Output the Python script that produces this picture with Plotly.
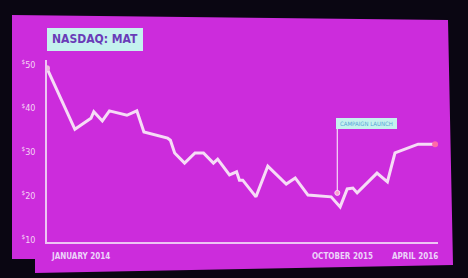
import plotly.graph_objects as go

# ---- data ----
dates = ["2014-01-01", "2014-03-01", "2014-04-04", "2014-04-10", "2014-04-28",
         "2014-05-13", "2014-06-19", "2014-07-10", "2014-07-25", "2014-09-13",
         "2014-09-19", "2014-09-28", "2014-10-19", "2014-11-10", "2014-11-28",
         "2014-12-19", "2014-12-28", "2015-01-22", "2015-02-06", "2015-02-12",
         "2015-02-19", "2015-03-19", "2015-04-13", "2015-05-22", "2015-06-10",
         "2015-07-07", "2015-08-25", "2015-09-13", "2015-09-28", "2015-10-10",
         "2015-10-19", "2015-11-30", "2015-12-22", "2016-01-07", "2016-02-25",
         "2016-04-01"]
prices = [49.1, 35.2, 37.7, 39.2, 37.1,
          39.4, 38.4, 39.4, 34.6, 33.2,
          32.7, 29.8, 27.5, 29.8, 29.8,
          27.5, 28.4, 24.8, 25.5, 23.6,
          23.6, 19.8, 26.8, 22.7, 24.1,
          20.2, 19.8, 17.5, 21.6, 21.8,
          20.7, 25.2, 23.2, 29.8, 31.8,
          31.8]
ytick_vals = [10, 20, 30, 40, 50]
ytick_text = ["<sup>$</sup>10", "<sup>$</sup>20", "<sup>$</sup>30", "<sup>$</sup>40", "<sup>$</sup>50"]
xlabel_text = ["JANUARY 2014", "OCTOBER 2015", "APRIL 2016"]
title_text = "NASDAQ: MAT"
campaign_date = "2015-09-07"
campaign_value = 20.7
campaign_text = "CAMPAIGN LAUNCH"

# ---- layout geometry ----
W, H = 468, 278
L, R, T, B = 47, 30, 60, 36
PW, PH = W - L - R, H - T - B
FONT = "DejaVu Sans Condensed, Liberation Sans Narrow, sans-serif"


def px(x):
    return (x - L) / PW


def py(y):
    return 1 - (y - T) / PH


slide_pts = [(12, 15), (448, 20), (453, 265), (35, 273), (35, 259), (12, 259)]
path = "M " + " L ".join(f"{px(x):.4f},{py(y):.4f}" for x, y in slide_pts) + " Z"

fig = go.Figure()
fig.add_trace(go.Scatter(x=dates, y=prices, mode="lines",
                         line=dict(color="#f6dcf6", width=3), hoverinfo="skip"))
fig.add_trace(go.Scatter(x=[dates[0]], y=[prices[0]], mode="markers",
                         marker=dict(color="#f0b8e0", size=6), hoverinfo="skip"))
fig.add_trace(go.Scatter(x=[dates[-1]], y=[prices[-1]], mode="markers",
                         marker=dict(color="#ff6aa8", size=6), hoverinfo="skip"))
# campaign marker line up to label
fig.add_trace(go.Scatter(x=[campaign_date, campaign_date], y=[campaign_value, 35.3],
                         mode="lines", line=dict(color="#f6dcf6", width=1.2),
                         hoverinfo="skip"))
fig.add_trace(go.Scatter(x=[campaign_date], y=[campaign_value], mode="markers",
                         marker=dict(color="#ff9ad0", size=5,
                                     line=dict(color="#f6dcf6", width=1)),
                         hoverinfo="skip"))

shapes = [
    dict(type="path", path=path, xref="paper", yref="paper",
         fillcolor="#cc2cdc", line=dict(width=0), layer="below"),
    dict(type="rect", xref="paper", yref="paper",
         x0=px(47), x1=px(143), y0=py(28), y1=py(51),
         fillcolor="#c4f2ee", line=dict(width=0), layer="above"),
    dict(type="rect", xref="paper", yref="paper",
         x0=px(336), x1=px(397), y0=py(118), y1=py(129),
         fillcolor="#c4f2ee", line=dict(width=0), layer="above"),
]

annotations = [
    dict(text=f"<b>{title_text}</b>", xref="paper", yref="paper",
         x=px(95), y=py(39.5), showarrow=False, xanchor="center", yanchor="middle",
         font=dict(family=FONT, size=12, color="#6a3cb8")),
    dict(text=campaign_text, xref="paper", yref="paper",
         x=px(366.5), y=py(123.5), showarrow=False, xanchor="center", yanchor="middle",
         font=dict(family=FONT, size=6, color="#5aa6d6")),
]
xlabel_pos = [(49, "left"), (342, "center"), (440, "right")]
for t, (xp, a) in zip(xlabel_text, xlabel_pos):
    annotations.append(dict(text=f"<b>{t}</b>", x=px(xp), xref="paper", yref="paper",
                            y=py(256), showarrow=False, xanchor=a, yanchor="middle",
                            font=dict(family=FONT, size=8, color="#ecd4fa")))

fig.update_layout(
    width=W, height=H,
    margin=dict(l=L, r=R, t=T, b=B, pad=0),
    paper_bgcolor="#0a0612", plot_bgcolor="rgba(0,0,0,0)",
    showlegend=False,
    shapes=shapes, annotations=annotations,
    xaxis=dict(range=["2014-01-01", "2016-04-07"], showgrid=False, zeroline=False,
               showline=True, linecolor="#eec4f4", linewidth=1.5,
               showticklabels=False, ticks=""),
    yaxis=dict(range=[9.5, 51], showgrid=False, zeroline=False,
               showline=True, linecolor="#eec4f4", linewidth=1.5,
               tickvals=ytick_vals, ticktext=ytick_text, ticks="",
               ticklabelstandoff=8,
               tickfont=dict(family=FONT, size=9, color="#f4d4f4")),
)

fig.write_html("out.html")
